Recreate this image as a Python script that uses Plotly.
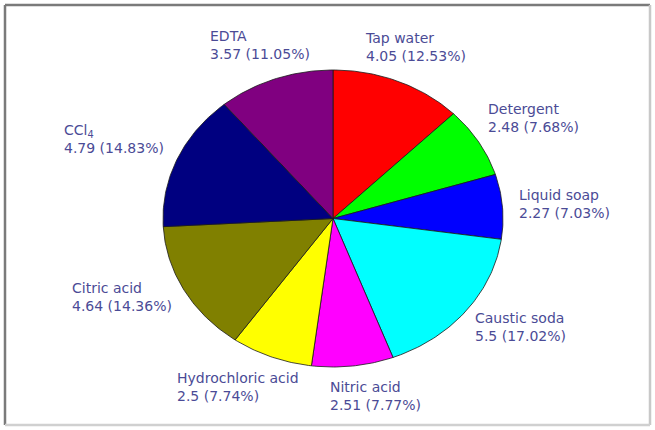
import numpy as np
import plotly.graph_objects as go

# Data
names = ["Tap water", "Detergent", "Liquid soap", "Caustic soda", "Nitric acid",
         "Hydrochloric acid", "Citric acid", "CCl<sub>4</sub>", "EDTA"]
values = [4.05, 2.48, 2.27, 5.5, 2.51, 2.5, 4.64, 4.79, 3.57]
colors = ["#FF0000", "#00FF00", "#0000FF", "#00FFFF", "#FF00FF",
          "#FFFF00", "#808000", "#000080", "#800080"]

# Layout of the pie (drawing units = pixels, y grows downwards)
W, H = 655, 430
CX, CY = 333, 218.5
RX, RY = 170, 148.5

# Label anchors: left edge x, vertical middle y
label_x = [363, 486, 517, 473, 328, 175, 70, 62, 208]
label_y = [46.5, 118, 204, 327, 395.5, 387, 297, 139, 45]

total = float(sum(values))
fracs = [v / total for v in values]

fig = go.Figure()

start = 0.0
for name, v, f, col in zip(names, values, fracs, colors):
    a0 = start * 2 * np.pi
    a1 = (start + f) * 2 * np.pi
    t = np.linspace(a0, a1, max(int(f * 400), 8))
    xs = np.concatenate([[CX], CX + RX * np.sin(t), [CX]])
    ys = np.concatenate([[CY], CY - RY * np.cos(t), [CY]])
    fig.add_trace(go.Scatter(
        x=xs, y=ys, mode="lines", fill="toself", fillcolor=col,
        line=dict(color="#1a1a1a", width=0.8), hoverinfo="text",
        text=name, showlegend=False))
    start += f

for name, v, f, lx, ly in zip(names, values, fracs, label_x, label_y):
    fig.add_annotation(
        x=lx, y=ly, xref="x", yref="y", xanchor="left", yanchor="middle",
        align="left", showarrow=False,
        text=f"{name}<br>{v:g} ({f * 100:.2f}%)",
        font=dict(family="DejaVu Sans", size=14, color="#4b4b96"))

# Frame around the chart
frame = [
    (5, 5, 650, 5, "#7a7a7a"),
    (5, 5, 5, 425, "#7a7a7a"),
    (650, 5, 650, 425, "#c8c8c8"),
    (5, 425, 650, 425, "#d0d0d0"),
]
for x0, y0, x1, y1, c in frame:
    fig.add_shape(type="line", x0=x0, y0=y0, x1=x1, y1=y1, xref="x", yref="y",
                  line=dict(color=c, width=2.5))

fig.update_layout(
    width=W, height=H, autosize=False,
    margin=dict(l=0, r=0, t=0, b=0),
    paper_bgcolor="white", plot_bgcolor="white",
    xaxis=dict(range=[0, W], visible=False, fixedrange=True),
    yaxis=dict(range=[H, 0], visible=False, fixedrange=True),
)

fig.write_html("out.html")
